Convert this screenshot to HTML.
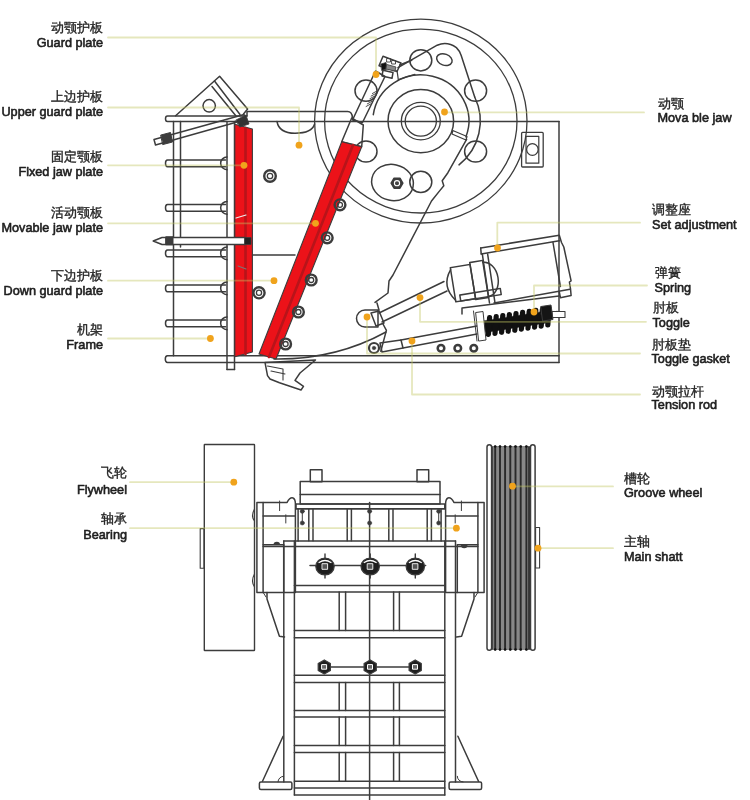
<!DOCTYPE html>
<html><head><meta charset="utf-8"><style>
html,body{margin:0;padding:0;background:#fff;}
svg{display:block;filter:blur(0.4px);}
.en{font-family:"Liberation Sans",sans-serif;font-size:12.7px;fill:#1e1e1e;stroke:#1e1e1e;stroke-width:0.6px;}
.cn{font-family:"Liberation Sans",sans-serif;font-size:13.2px;fill:#262626;stroke:#262626;stroke-width:0.35px;}
</style></head><body>
<svg width="750" height="800" viewBox="0 0 750 800" stroke-linecap="round" stroke-linejoin="round">
<rect width="750" height="800" fill="#fff"/>
<path d="M247,116 H167.5 Q165.5,116 165.5,118.7 Q165.5,121.5 167.5,121.5 H559" stroke="#3c3c3c" stroke-width="1.5" fill="none"/>
<path d="M352.4,117.6 Q352,111.6 347.6,111.6 L247,111.6 V116" stroke="#3c3c3c" stroke-width="1.5" fill="none"/>
<line x1="559" y1="121.5" x2="559" y2="362.5" stroke="#3c3c3c" stroke-width="1.5"/>
<path d="M167.5,355.8 H559 M167.5,362.5 H559 M167.5,355.8 Q165.3,355.8 165.3,359.1 Q165.3,362.5 167.5,362.5" stroke="#3c3c3c" stroke-width="1.5" fill="none"/>
<line x1="173.5" y1="121.5" x2="173.5" y2="355.8" stroke="#3c3c3c" stroke-width="1.5"/>
<line x1="180.5" y1="121.5" x2="180.5" y2="247" stroke="#3c3c3c" stroke-width="1.5"/>
<line x1="227" y1="121.5" x2="227" y2="369.5" stroke="#3c3c3c" stroke-width="1.5"/>
<line x1="234.5" y1="121.5" x2="234.5" y2="369.5" stroke="#3c3c3c" stroke-width="1.5"/>
<line x1="227" y1="369.5" x2="234.5" y2="369.5" stroke="#3c3c3c" stroke-width="1.5"/>
<path d="M225.5,160 H167.5 Q165.5,160 165.5,163.3 Q165.5,166.7 167.5,166.7 H225.5" stroke="#3c3c3c" stroke-width="1.5" fill="none"/>
<path d="M227,157 A6,6 0 0 0 227,169.7" stroke="#3c3c3c" stroke-width="1.5" fill="none"/>
<path d="M225.5,204.5 H167.5 Q165.5,204.5 165.5,207.8 Q165.5,211.2 167.5,211.2 H225.5" stroke="#3c3c3c" stroke-width="1.5" fill="none"/>
<path d="M227,201.5 A6,6 0 0 0 227,214.2" stroke="#3c3c3c" stroke-width="1.5" fill="none"/>
<path d="M225.5,250 H167.5 Q165.5,250 165.5,253.3 Q165.5,256.7 167.5,256.7 H225.5" stroke="#3c3c3c" stroke-width="1.5" fill="none"/>
<path d="M227,247 A6,6 0 0 0 227,259.7" stroke="#3c3c3c" stroke-width="1.5" fill="none"/>
<path d="M225.5,285 H167.5 Q165.5,285 165.5,288.3 Q165.5,291.7 167.5,291.7 H225.5" stroke="#3c3c3c" stroke-width="1.5" fill="none"/>
<path d="M227,282 A6,6 0 0 0 227,294.7" stroke="#3c3c3c" stroke-width="1.5" fill="none"/>
<path d="M225.5,320 H167.5 Q165.5,320 165.5,323.3 Q165.5,326.7 167.5,326.7 H225.5" stroke="#3c3c3c" stroke-width="1.5" fill="none"/>
<path d="M227,317 A6,6 0 0 0 227,329.7" stroke="#3c3c3c" stroke-width="1.5" fill="none"/>
<polyline points="175.6,115.8 219.6,76.2 247.6,109 243.5,114" stroke="#3c3c3c" stroke-width="1.5" fill="none"/>
<line x1="214.5" y1="81" x2="240" y2="114.5" stroke="#3c3c3c" stroke-width="1.5"/>
<line x1="212" y1="86.5" x2="236" y2="116" stroke="#3c3c3c" stroke-width="1.5"/>
<circle cx="209.2" cy="105.8" r="6.2" stroke="#3c3c3c" stroke-width="1.5" fill="none"/>
<polygon points="154,139.5 244,114.5 246,119.5 155.5,145" stroke="#3c3c3c" stroke-width="1.5" fill="none"/>
<polygon points="161,135 170.5,132.5 172.5,142 163,144.5" stroke="#3c3c3c" stroke-width="1" fill="#3c3c3c"/>
<polygon points="234.8,124.2 252.4,129 252.4,352 234.8,356.8" stroke="#3c3c3c" stroke-width="1.1" fill="#ec1219"/>
<line x1="245.5" y1="128" x2="245.5" y2="354" stroke="#b8141a" stroke-width="2.6"/>
<polygon points="236,120 246,115 249,124 240,127" stroke="#3c3c3c" stroke-width="0.8" fill="#333"/>
<path d="M153.2,241 L162,237.5 H245 V244.5 H162 Z" stroke="#3c3c3c" stroke-width="1.5" fill="#fff"/>
<rect x="166" y="236.8" width="7" height="8" rx="0" stroke="#3c3c3c" stroke-width="1" fill="#3c3c3c"/>
<rect x="245" y="237.5" width="6" height="7" rx="0" stroke="#3c3c3c" stroke-width="0.8" fill="#222"/>
<line x1="236" y1="218" x2="246" y2="215" stroke="#eee" stroke-width="1.2"/>
<line x1="238" y1="266" x2="246" y2="269" stroke="#777" stroke-width="1.1"/>
<circle cx="270" cy="176" r="5.8" stroke="#3c3c3c" stroke-width="2.4" fill="none"/>
<circle cx="270" cy="176" r="2.7" stroke="#3c3c3c" stroke-width="1.3" fill="none"/>
<circle cx="259" cy="292.8" r="5.6" stroke="#3c3c3c" stroke-width="2.4" fill="none"/>
<circle cx="259" cy="292.8" r="2.6" stroke="#3c3c3c" stroke-width="1.3" fill="none"/>
<line x1="252.5" y1="255" x2="295" y2="255" stroke="#3c3c3c" stroke-width="1.5"/>
<path d="M277,121.5 Q279,133.2 295,133.2 Q312,133.2 314.6,124" stroke="#3c3c3c" stroke-width="1.5" fill="none"/>
<rect x="521.6" y="132.4" width="21.6" height="34.6" rx="1" stroke="#3c3c3c" stroke-width="1.3" fill="none"/>
<rect x="526" y="136.4" width="12.8" height="26.8" rx="0" stroke="#3c3c3c" stroke-width="1.2" fill="none"/>
<circle cx="532.4" cy="149.5" r="5.8" stroke="#3c3c3c" stroke-width="1.3" fill="none"/>
<ellipse cx="420.8" cy="121.1" rx="106.2" ry="101.9" stroke="#3c3c3c" stroke-width="1.3" fill="none"/>
<ellipse cx="420.8" cy="121.1" rx="96.2" ry="91.9" stroke="#3c3c3c" stroke-width="1.3" fill="none"/>
<ellipse cx="420.8" cy="121.1" rx="32.8" ry="31.6" stroke="#3c3c3c" stroke-width="1.5" fill="none"/>
<ellipse cx="420.8" cy="121.1" rx="19.5" ry="18.8" stroke="#3c3c3c" stroke-width="1.3" fill="none"/>
<ellipse cx="420.8" cy="121.1" rx="15.6" ry="15" stroke="#3c3c3c" stroke-width="1.3" fill="none"/>
<ellipse cx="420.8" cy="60.3" rx="11" ry="10.6" stroke="#3c3c3c" stroke-width="1.5" fill="none"/>
<ellipse cx="366" cy="90.7" rx="11" ry="10.6" stroke="#3c3c3c" stroke-width="1.5" fill="none"/>
<ellipse cx="366" cy="151.5" rx="11" ry="10.6" stroke="#3c3c3c" stroke-width="1.5" fill="none"/>
<ellipse cx="475.6" cy="90.7" rx="11" ry="10.6" stroke="#3c3c3c" stroke-width="1.5" fill="none"/>
<ellipse cx="475.6" cy="151.5" rx="11" ry="10.6" stroke="#3c3c3c" stroke-width="1.5" fill="none"/>
<ellipse cx="420.8" cy="181.9" rx="11" ry="10.6" stroke="#3c3c3c" stroke-width="1.5" fill="none"/>
<ellipse cx="444.4" cy="59.6" rx="8" ry="5.6" stroke="#3c3c3c" stroke-width="1.5" fill="none" transform="rotate(20 444.4 59.6)"/>
<ellipse cx="392.5" cy="182.5" rx="21" ry="18" stroke="#3c3c3c" stroke-width="1.5" fill="none" transform="rotate(12 392.5 182.5)"/>
<polygon points="402.8,183.2 399.9,188.2 394.1,188.2 391.2,183.2 394.1,178.2 399.9,178.2" stroke="#3c3c3c" stroke-width="1.6" fill="#3c3c3c"/>
<circle cx="397" cy="183.2" r="2.6" stroke="#fff" stroke-width="1.1" fill="#444"/>
<path d="M398,67.6 L437.2,45.2 Q447,41 456.4,47.6 Q459.5,50.5 461.2,55.6 L474.7,97" stroke="#3c3c3c" stroke-width="1.5" fill="none"/>
<path d="M474.7,97 A59.5,57.1 0 0 1 459,164.9" stroke="#3c3c3c" stroke-width="1.5" fill="none"/>
<path d="M373.3,114.7 A48,46.1 0 1 1 465.9,136.9" stroke="#3c3c3c" stroke-width="1.5" fill="none"/>
<polygon points="452.8,130.5 467,136.5 466,140 452,134" stroke="#3c3c3c" stroke-width="1.2" fill="none"/>
<path d="M466.6,139.4 L447.9,172.7 L442.2,180.8 L443.8,185.7 L439.8,190.6 L431.5,201 L393,275 L389,281 L388,293 L375,302.4 M377,303 L379,310 M383,324 L386.4,330.4 L380.8,351.2" stroke="#3c3c3c" stroke-width="1.5" fill="none"/>
<polygon points="375.5,71 385,76.5 362.5,122.5 352.5,120" stroke="#3c3c3c" stroke-width="1.5" fill="none"/>
<line x1="372.4" y1="93.5" x2="376.9" y2="91" stroke="#3c3c3c" stroke-width="0.9"/>
<line x1="371.1" y1="96.1" x2="375.6" y2="93.6" stroke="#3c3c3c" stroke-width="0.9"/>
<line x1="369.9" y1="98.7" x2="374.4" y2="96.2" stroke="#3c3c3c" stroke-width="0.9"/>
<line x1="368.6" y1="101.3" x2="373.1" y2="98.8" stroke="#3c3c3c" stroke-width="0.9"/>
<line x1="367.3" y1="103.9" x2="371.8" y2="101.4" stroke="#3c3c3c" stroke-width="0.9"/>
<line x1="366.1" y1="106.5" x2="370.6" y2="104" stroke="#3c3c3c" stroke-width="0.9"/>
<polygon points="383,56.3 401,63 397,71.5 379,65.7" stroke="#3c3c3c" stroke-width="1.5" fill="none"/>
<polygon points="381,64 386,62.5 387,69 382,70.5" stroke="#3c3c3c" stroke-width="0.8" fill="#111"/>
<polygon points="387,64.5 396,67 395,71 386,69" stroke="#3c3c3c" stroke-width="0.8" fill="#888"/>
<rect x="387" y="58.5" width="3.5" height="3.5" rx="0" stroke="#3c3c3c" stroke-width="0.9" fill="none"/>
<rect x="392" y="60.5" width="3.5" height="3.5" rx="0" stroke="#3c3c3c" stroke-width="0.9" fill="none"/>
<polygon points="383,70.3 393,72.5 392,78.3 382,76" stroke="#3c3c3c" stroke-width="1.5" fill="none"/>
<path d="M397,70.3 L398.3,79.7 Q402,78 415,74.3" stroke="#3c3c3c" stroke-width="1.2" fill="none"/>
<line x1="399.7" y1="65" x2="411.7" y2="60.3" stroke="#3c3c3c" stroke-width="1.5"/>
<polygon points="351.7,118 363.3,125 361.7,146.7 341.7,141.7" stroke="#3c3c3c" stroke-width="1.5" fill="none"/>
<polygon points="341.7,141.7 361.7,146.7 276,359 259,354" stroke="#3c3c3c" stroke-width="1.1" fill="#ec1219"/>
<line x1="353" y1="145" x2="269" y2="357" stroke="#b8141a" stroke-width="2.6"/>
<circle cx="340" cy="204.8" r="5.4" stroke="#3c3c3c" stroke-width="2.4" fill="none"/>
<circle cx="340" cy="204.8" r="2.5" stroke="#3c3c3c" stroke-width="1.3" fill="none"/>
<circle cx="327.2" cy="237.8" r="5.4" stroke="#3c3c3c" stroke-width="2.4" fill="none"/>
<circle cx="327.2" cy="237.8" r="2.5" stroke="#3c3c3c" stroke-width="1.3" fill="none"/>
<circle cx="311.2" cy="280" r="5.4" stroke="#3c3c3c" stroke-width="2.4" fill="none"/>
<circle cx="311.2" cy="280" r="2.5" stroke="#3c3c3c" stroke-width="1.3" fill="none"/>
<circle cx="298.4" cy="312" r="5.4" stroke="#3c3c3c" stroke-width="2.4" fill="none"/>
<circle cx="298.4" cy="312" r="2.5" stroke="#3c3c3c" stroke-width="1.3" fill="none"/>
<circle cx="285.6" cy="344" r="5.4" stroke="#3c3c3c" stroke-width="2.4" fill="none"/>
<circle cx="285.6" cy="344" r="2.5" stroke="#3c3c3c" stroke-width="1.3" fill="none"/>
<polygon points="265,362.4 267.5,375.6 270,379 279.5,382.8 301,390 303.5,386.4 295,380.4 300,373 315.5,360" stroke="#3c3c3c" stroke-width="1.5" fill="none"/>
<polyline points="267.5,366 283,369 283,380" stroke="#3c3c3c" stroke-width="1.1" fill="none"/>
<line x1="271" y1="371" x2="285" y2="374" stroke="#3c3c3c" stroke-width="1.1"/>
<path d="M274,359 Q335,360 386,332" stroke="#3c3c3c" stroke-width="1.5" fill="none"/>
<path d="M365,310 H378 V327 H365 A8.5,8.5 0 0 1 365,310 Z" stroke="#3c3c3c" stroke-width="1.5" fill="none"/>
<polygon points="371,313 379,311 384,323 376,326" stroke="#3c3c3c" stroke-width="1.5" fill="none"/>
<circle cx="374" cy="348" r="5" stroke="#3c3c3c" stroke-width="2.2" fill="none"/>
<circle cx="374" cy="348" r="1.8" stroke="#3c3c3c" stroke-width="0.5" fill="#3c3c3c"/>
<line x1="379" y1="313" x2="444" y2="281.5" stroke="#3c3c3c" stroke-width="1.5"/>
<line x1="382" y1="322" x2="447" y2="291" stroke="#3c3c3c" stroke-width="1.5"/>
<rect x="0" y="0" width="0" height="0" rx="0" stroke="#3c3c3c" stroke-width="0" fill="none"/>
<polygon points="380,343 401,340 403,348 382,352" stroke="#3c3c3c" stroke-width="1.5" fill="none"/>
<line x1="401" y1="340" x2="477" y2="326" stroke="#3c3c3c" stroke-width="1.5"/>
<line x1="403" y1="348" x2="477" y2="334" stroke="#3c3c3c" stroke-width="1.5"/>
<circle cx="441" cy="348.2" r="3.3" stroke="#3c3c3c" stroke-width="2.5" fill="none"/>
<circle cx="457.8" cy="348.2" r="3.3" stroke="#3c3c3c" stroke-width="2.5" fill="none"/>
<circle cx="473.8" cy="348.2" r="3.3" stroke="#3c3c3c" stroke-width="2.5" fill="none"/>
<path d="M462,314 L462,308 L559,296" stroke="#3c3c3c" stroke-width="1.5" fill="none"/>
<polyline points="480.7,248 559.3,235.2 561.5,242.5 563.8,247 571.1,280.8 569.4,282 570.5,288.7 571.1,295.4 560.4,297.7 559.3,292" stroke="#3c3c3c" stroke-width="1.5" fill="none"/>
<line x1="494" y1="302.9" x2="570" y2="289.3" stroke="#3c3c3c" stroke-width="1.5"/>
<line x1="481.2" y1="253.9" x2="559.3" y2="240.8" stroke="#3c3c3c" stroke-width="1.5"/>
<line x1="480.7" y1="248" x2="481.2" y2="253.9" stroke="#3c3c3c" stroke-width="1.5"/>
<line x1="553" y1="242.5" x2="560.4" y2="286.4" stroke="#3c3c3c" stroke-width="1.5"/>
<g transform="translate(450.3,267.7) rotate(-9.2)">
<path d="M33,0 A12.5,17.3 0 0 1 33,34.6" stroke="#3c3c3c" stroke-width="1.5" fill="none"/>
<rect x="0" y="0" width="20" height="34.6" rx="0" stroke="#3c3c3c" stroke-width="1.5" fill="none"/>
<rect x="20" y="-2" width="13" height="37.5" rx="0" stroke="#3c3c3c" stroke-width="1.5" fill="none"/>
<path d="M0,2 Q-12,17 0,33" stroke="#3c3c3c" stroke-width="1.5" fill="none"/>
<rect x="5" y="28.5" width="41" height="6.1" rx="0" stroke="#3c3c3c" stroke-width="1.5" fill="none"/>
</g>
<line x1="482.3" y1="253.9" x2="489.5" y2="303" stroke="#3c3c3c" stroke-width="1.5"/>
<line x1="487.6" y1="253.9" x2="495" y2="302.9" stroke="#3c3c3c" stroke-width="1.5"/>
<polygon points="484,320.8 550,310.4 550,322.4 484,332.8" stroke="#3c3c3c" stroke-width="0.5" fill="#111"/>
<rect x="486.4" y="315" width="5.2" height="22" rx="2.6" fill="#111" transform="rotate(4 489 326)"/>
<rect x="493" y="314" width="5.2" height="22" rx="2.6" fill="#111" transform="rotate(4 495.6 325)"/>
<rect x="499.6" y="312.9" width="5.2" height="22" rx="2.6" fill="#111" transform="rotate(4 502.2 323.9)"/>
<rect x="506.2" y="311.9" width="5.2" height="22" rx="2.6" fill="#111" transform="rotate(4 508.8 322.9)"/>
<rect x="512.8" y="310.9" width="5.2" height="22" rx="2.6" fill="#111" transform="rotate(4 515.4 321.9)"/>
<rect x="519.4" y="309.8" width="5.2" height="22" rx="2.6" fill="#111" transform="rotate(4 522 320.8)"/>
<rect x="526" y="308.8" width="5.2" height="22" rx="2.6" fill="#111" transform="rotate(4 528.6 319.8)"/>
<rect x="532.6" y="307.7" width="5.2" height="22" rx="2.6" fill="#111" transform="rotate(4 535.2 318.7)"/>
<rect x="539.2" y="306.7" width="5.2" height="22" rx="2.6" fill="#111" transform="rotate(4 541.8 317.7)"/>
<rect x="545.8" y="305.6" width="5.2" height="22" rx="2.6" fill="#111" transform="rotate(4 548.4 316.6)"/>
<line x1="541" y1="313.8" x2="557" y2="311.3" stroke="#3c3c3c" stroke-width="1"/>
<rect x="552" y="311.5" width="13" height="6" rx="0" stroke="#3c3c3c" stroke-width="1.1" fill="#fff"/>
<polygon points="541,306.5 551,305 553,319.5 543,321" stroke="#3c3c3c" stroke-width="1" fill="#151515"/>
<polygon points="476,312.5 483,311.5 486,340 479,341" stroke="#3c3c3c" stroke-width="1" fill="#fff"/>
<line x1="473.5" y1="311" x2="477" y2="341" stroke="#3c3c3c" stroke-width="1"/>
<rect x="204.3" y="444.5" width="50.2" height="206" rx="0.5" stroke="#3c3c3c" stroke-width="1.4" fill="none"/>
<path d="M254.5,509 Q250.5,516 254.5,521 M254.5,574 Q250.5,581 254.5,587" stroke="#3c3c3c" stroke-width="1.1" fill="none"/>
<rect x="200.2" y="528.6" width="3.8" height="39.6" rx="0" stroke="#3c3c3c" stroke-width="1.1" fill="none"/>
<rect x="490" y="446" width="41" height="204" rx="0" stroke="#3c3c3c" stroke-width="0" fill="#888"/>
<path d="M487,648 V447 A2.3,2.3 0 0 1 491.6,447 V648 A2.3,2.3 0 0 1 487,648 Z" stroke="#3c3c3c" stroke-width="1.5" fill="#fff"/>
<path d="M530.5,648 V447 A2.3,2.3 0 0 1 535.1,447 V648 A2.3,2.3 0 0 1 530.5,648 Z" stroke="#3c3c3c" stroke-width="1.5" fill="#fff"/>
<line x1="495.2" y1="446.5" x2="495.2" y2="649.5" stroke="#2a2a2a" stroke-width="1.9"/>
<circle cx="495.2" cy="446.5" r="1.3" stroke="#3c3c3c" stroke-width="0" fill="#111"/>
<circle cx="495.2" cy="649.5" r="1.3" stroke="#3c3c3c" stroke-width="0" fill="#111"/>
<line x1="500" y1="446.5" x2="500" y2="649.5" stroke="#2a2a2a" stroke-width="1.9"/>
<circle cx="500" cy="446.5" r="1.3" stroke="#3c3c3c" stroke-width="0" fill="#111"/>
<circle cx="500" cy="649.5" r="1.3" stroke="#3c3c3c" stroke-width="0" fill="#111"/>
<line x1="505.1" y1="446.5" x2="505.1" y2="649.5" stroke="#2a2a2a" stroke-width="1.9"/>
<circle cx="505.1" cy="446.5" r="1.3" stroke="#3c3c3c" stroke-width="0" fill="#111"/>
<circle cx="505.1" cy="649.5" r="1.3" stroke="#3c3c3c" stroke-width="0" fill="#111"/>
<line x1="510.3" y1="446.5" x2="510.3" y2="649.5" stroke="#2a2a2a" stroke-width="1.9"/>
<circle cx="510.3" cy="446.5" r="1.3" stroke="#3c3c3c" stroke-width="0" fill="#111"/>
<circle cx="510.3" cy="649.5" r="1.3" stroke="#3c3c3c" stroke-width="0" fill="#111"/>
<line x1="515.5" y1="446.5" x2="515.5" y2="649.5" stroke="#2a2a2a" stroke-width="1.9"/>
<circle cx="515.5" cy="446.5" r="1.3" stroke="#3c3c3c" stroke-width="0" fill="#111"/>
<circle cx="515.5" cy="649.5" r="1.3" stroke="#3c3c3c" stroke-width="0" fill="#111"/>
<line x1="520.7" y1="446.5" x2="520.7" y2="649.5" stroke="#2a2a2a" stroke-width="1.9"/>
<circle cx="520.7" cy="446.5" r="1.3" stroke="#3c3c3c" stroke-width="0" fill="#111"/>
<circle cx="520.7" cy="649.5" r="1.3" stroke="#3c3c3c" stroke-width="0" fill="#111"/>
<line x1="526.4" y1="446.5" x2="526.4" y2="649.5" stroke="#2a2a2a" stroke-width="1.9"/>
<circle cx="526.4" cy="446.5" r="1.3" stroke="#3c3c3c" stroke-width="0" fill="#111"/>
<circle cx="526.4" cy="649.5" r="1.3" stroke="#3c3c3c" stroke-width="0" fill="#111"/>
<line x1="492.5" y1="447" x2="492.5" y2="649" stroke="#444" stroke-width="1.2"/>
<line x1="529" y1="447" x2="529" y2="649" stroke="#222" stroke-width="1.5"/>
<rect x="535.6" y="527.5" width="4" height="40.5" rx="0" stroke="#3c3c3c" stroke-width="1.1" fill="none"/>
<rect x="310.3" y="469.8" width="11.7" height="12" rx="0" stroke="#3c3c3c" stroke-width="1.5" fill="none"/>
<rect x="417" y="469.8" width="11.7" height="12" rx="0" stroke="#3c3c3c" stroke-width="1.5" fill="none"/>
<rect x="300.2" y="481.6" width="139.8" height="22.4" rx="0" stroke="#3c3c3c" stroke-width="1.5" fill="none"/>
<line x1="300.2" y1="494.4" x2="440" y2="494.4" stroke="#3c3c3c" stroke-width="1.5"/>
<rect x="296" y="504" width="148.8" height="4.8" rx="0" stroke="#3c3c3c" stroke-width="1.5" fill="none"/>
<path d="M256.9,592.5 V502.4 H287.1 Q290,497 293,498 Q295.4,499 295.4,504 V592.5 H256.9" stroke="#3c3c3c" stroke-width="1.5" fill="none"/>
<line x1="263.1" y1="502.4" x2="263.1" y2="592.5" stroke="#3c3c3c" stroke-width="1.5"/>
<line x1="263.1" y1="516.1" x2="295.4" y2="516.1" stroke="#3c3c3c" stroke-width="1.5"/>
<line x1="279.6" y1="501" x2="279.6" y2="510.6" stroke="#3c3c3c" stroke-width="1"/>
<line x1="285.8" y1="514.8" x2="285.8" y2="523" stroke="#3c3c3c" stroke-width="1"/>
<line x1="263.1" y1="544.8" x2="283.7" y2="544.8" stroke="#3c3c3c" stroke-width="1.5"/>
<path d="M273.5,545 A3.3,3.3 0 0 1 280.1,545 Z" fill="#3c3c3c"/>
<line x1="283.7" y1="545" x2="283.7" y2="592.5" stroke="#3c3c3c" stroke-width="1.5"/>
<polyline points="267,592.5 267,599 279.4,636.3 284.5,637" stroke="#3c3c3c" stroke-width="1.5" fill="none"/>
<line x1="263.5" y1="593" x2="266" y2="597" stroke="#3c3c3c" stroke-width="1"/>
<polyline points="283.1,736.3 262.5,781.3" stroke="#3c3c3c" stroke-width="1.5" fill="none"/>
<rect x="259.4" y="781.9" width="32.5" height="7.5" rx="1.5" stroke="#3c3c3c" stroke-width="1.5" fill="none"/>
<path d="M278,781.9 A5.5,5.5 0 0 1 283.7,776.3" stroke="#3c3c3c" stroke-width="1" fill="none"/>
<circle cx="302.3" cy="511.3" r="2.1" stroke="#3c3c3c" stroke-width="0.5" fill="#3c3c3c"/>
<circle cx="302.3" cy="523" r="2.1" stroke="#3c3c3c" stroke-width="0.5" fill="#3c3c3c"/>
<line x1="302.3" y1="511.3" x2="302.3" y2="523" stroke="#3c3c3c" stroke-width="1"/>
<path d="M484.1,592.5 V502.4 H453.9 Q451,497 448,498 Q445.6,499 445.6,504 V592.5 H484.1" stroke="#3c3c3c" stroke-width="1.5" fill="none"/>
<line x1="477.9" y1="502.4" x2="477.9" y2="592.5" stroke="#3c3c3c" stroke-width="1.5"/>
<line x1="477.9" y1="516.1" x2="445.6" y2="516.1" stroke="#3c3c3c" stroke-width="1.5"/>
<line x1="461.4" y1="501" x2="461.4" y2="510.6" stroke="#3c3c3c" stroke-width="1"/>
<line x1="455.2" y1="514.8" x2="455.2" y2="523" stroke="#3c3c3c" stroke-width="1"/>
<line x1="477.9" y1="544.8" x2="457.3" y2="544.8" stroke="#3c3c3c" stroke-width="1.5"/>
<path d="M467.5,545 A3.3,3.3 0 0 1 460.9,545 Z" fill="#3c3c3c"/>
<line x1="457.3" y1="545" x2="457.3" y2="592.5" stroke="#3c3c3c" stroke-width="1.5"/>
<polyline points="474,592.5 474,599 461.6,636.3 456.5,637" stroke="#3c3c3c" stroke-width="1.5" fill="none"/>
<line x1="477.5" y1="593" x2="475" y2="597" stroke="#3c3c3c" stroke-width="1"/>
<polyline points="457.9,736.3 478.5,781.3" stroke="#3c3c3c" stroke-width="1.5" fill="none"/>
<rect x="449.1" y="781.9" width="32.5" height="7.5" rx="1.5" stroke="#3c3c3c" stroke-width="1.5" fill="none"/>
<path d="M463,781.9 A5.5,5.5 0 0 1 457.3,776.3" stroke="#3c3c3c" stroke-width="1" fill="none"/>
<circle cx="438.7" cy="511.3" r="2.1" stroke="#3c3c3c" stroke-width="0.5" fill="#3c3c3c"/>
<circle cx="438.7" cy="523" r="2.1" stroke="#3c3c3c" stroke-width="0.5" fill="#3c3c3c"/>
<line x1="438.7" y1="511.3" x2="438.7" y2="523" stroke="#3c3c3c" stroke-width="1"/>
<circle cx="369.6" cy="511.3" r="2.1" stroke="#3c3c3c" stroke-width="0.5" fill="#3c3c3c"/>
<circle cx="369.6" cy="523" r="2.1" stroke="#3c3c3c" stroke-width="0.5" fill="#3c3c3c"/>
<line x1="283.8" y1="540.9" x2="283.8" y2="781.9" stroke="#3c3c3c" stroke-width="1.5"/>
<line x1="294.4" y1="540.9" x2="294.4" y2="795" stroke="#3c3c3c" stroke-width="1.5"/>
<line x1="444.8" y1="540.9" x2="444.8" y2="795" stroke="#3c3c3c" stroke-width="1.5"/>
<line x1="455.5" y1="540.9" x2="455.5" y2="781.9" stroke="#3c3c3c" stroke-width="1.5"/>
<line x1="283.7" y1="541" x2="455.5" y2="541" stroke="#3c3c3c" stroke-width="1.5"/>
<line x1="263.1" y1="546.5" x2="477.9" y2="546.5" stroke="#3c3c3c" stroke-width="1.5"/>
<line x1="369.6" y1="502.4" x2="369.6" y2="800" stroke="#3c3c3c" stroke-width="1.5"/>
<line x1="298.1" y1="509" x2="298.1" y2="541" stroke="#3c3c3c" stroke-width="1.5"/>
<line x1="441.1" y1="509" x2="441.1" y2="541" stroke="#3c3c3c" stroke-width="1.5"/>
<line x1="296" y1="508.8" x2="444.8" y2="508.8" stroke="#3c3c3c" stroke-width="1.5"/>
<line x1="308.8" y1="508.8" x2="308.8" y2="540.8" stroke="#3c3c3c" stroke-width="1.5"/>
<line x1="313" y1="508.8" x2="313" y2="540.8" stroke="#3c3c3c" stroke-width="1.5"/>
<line x1="347.2" y1="508.8" x2="347.2" y2="540.8" stroke="#3c3c3c" stroke-width="1.5"/>
<line x1="351.4" y1="508.8" x2="351.4" y2="540.8" stroke="#3c3c3c" stroke-width="1.5"/>
<line x1="388.8" y1="508.8" x2="388.8" y2="540.8" stroke="#3c3c3c" stroke-width="1.5"/>
<line x1="393" y1="508.8" x2="393" y2="540.8" stroke="#3c3c3c" stroke-width="1.5"/>
<line x1="427.2" y1="508.8" x2="427.2" y2="540.8" stroke="#3c3c3c" stroke-width="1.5"/>
<line x1="431.4" y1="508.8" x2="431.4" y2="540.8" stroke="#3c3c3c" stroke-width="1.5"/>
<line x1="310" y1="565.5" x2="425.6" y2="565.5" stroke="#3c3c3c" stroke-width="1.5"/>
<line x1="325" y1="554" x2="325" y2="578" stroke="#3c3c3c" stroke-width="1.4"/>
<ellipse cx="325" cy="566.5" rx="9.2" ry="8.4" stroke="#3c3c3c" stroke-width="1.2" fill="#1e1e1e"/>
<path d="M319,562.5 Q325,558.5 331,562.5" stroke="#fff" stroke-width="1.3" fill="none"/>
<rect x="322.4" y="563.7" width="5.2" height="5.6" rx="0" stroke="#fff" stroke-width="0.9" fill="#555"/>
<line x1="370.2" y1="554" x2="370.2" y2="578" stroke="#3c3c3c" stroke-width="1.4"/>
<ellipse cx="370.2" cy="566.5" rx="9.2" ry="8.4" stroke="#3c3c3c" stroke-width="1.2" fill="#1e1e1e"/>
<path d="M364.2,562.5 Q370.2,558.5 376.2,562.5" stroke="#fff" stroke-width="1.3" fill="none"/>
<rect x="367.6" y="563.7" width="5.2" height="5.6" rx="0" stroke="#fff" stroke-width="0.9" fill="#555"/>
<line x1="415.3" y1="554" x2="415.3" y2="578" stroke="#3c3c3c" stroke-width="1.4"/>
<ellipse cx="415.3" cy="566.5" rx="9.2" ry="8.4" stroke="#3c3c3c" stroke-width="1.2" fill="#1e1e1e"/>
<path d="M409.3,562.5 Q415.3,558.5 421.3,562.5" stroke="#fff" stroke-width="1.3" fill="none"/>
<rect x="412.7" y="563.7" width="5.2" height="5.6" rx="0" stroke="#fff" stroke-width="0.9" fill="#555"/>
<line x1="294.4" y1="585.6" x2="444.8" y2="585.6" stroke="#3c3c3c" stroke-width="1.5"/>
<line x1="294.4" y1="592" x2="444.8" y2="592" stroke="#3c3c3c" stroke-width="1.5"/>
<line x1="294.4" y1="630.4" x2="444.8" y2="630.4" stroke="#3c3c3c" stroke-width="1.5"/>
<line x1="294.4" y1="637.8" x2="444.8" y2="637.8" stroke="#3c3c3c" stroke-width="1.5"/>
<line x1="294.4" y1="675.2" x2="444.8" y2="675.2" stroke="#3c3c3c" stroke-width="1.5"/>
<line x1="294.4" y1="682.6" x2="444.8" y2="682.6" stroke="#3c3c3c" stroke-width="1.5"/>
<line x1="294.4" y1="710.6" x2="444.8" y2="710.6" stroke="#3c3c3c" stroke-width="1.5"/>
<line x1="294.4" y1="716.9" x2="444.8" y2="716.9" stroke="#3c3c3c" stroke-width="1.5"/>
<line x1="294.4" y1="745.6" x2="444.8" y2="745.6" stroke="#3c3c3c" stroke-width="1.5"/>
<line x1="294.4" y1="752.5" x2="444.8" y2="752.5" stroke="#3c3c3c" stroke-width="1.5"/>
<line x1="294.4" y1="781.2" x2="444.8" y2="781.2" stroke="#3c3c3c" stroke-width="1.5"/>
<line x1="294.4" y1="788.1" x2="444.8" y2="788.1" stroke="#3c3c3c" stroke-width="1.5"/>
<line x1="294.4" y1="795" x2="444.8" y2="795" stroke="#3c3c3c" stroke-width="1.5"/>
<line x1="339.2" y1="592" x2="339.2" y2="630.4" stroke="#3c3c3c" stroke-width="1.5"/>
<line x1="345.6" y1="592" x2="345.6" y2="630.4" stroke="#3c3c3c" stroke-width="1.5"/>
<line x1="393.6" y1="592" x2="393.6" y2="630.4" stroke="#3c3c3c" stroke-width="1.5"/>
<line x1="399.4" y1="592" x2="399.4" y2="630.4" stroke="#3c3c3c" stroke-width="1.5"/>
<line x1="339.2" y1="682.6" x2="339.2" y2="710.6" stroke="#3c3c3c" stroke-width="1.5"/>
<line x1="345.6" y1="682.6" x2="345.6" y2="710.6" stroke="#3c3c3c" stroke-width="1.5"/>
<line x1="393.6" y1="682.6" x2="393.6" y2="710.6" stroke="#3c3c3c" stroke-width="1.5"/>
<line x1="399.4" y1="682.6" x2="399.4" y2="710.6" stroke="#3c3c3c" stroke-width="1.5"/>
<line x1="339.2" y1="716.9" x2="339.2" y2="745.6" stroke="#3c3c3c" stroke-width="1.5"/>
<line x1="345.6" y1="716.9" x2="345.6" y2="745.6" stroke="#3c3c3c" stroke-width="1.5"/>
<line x1="393.6" y1="716.9" x2="393.6" y2="745.6" stroke="#3c3c3c" stroke-width="1.5"/>
<line x1="399.4" y1="716.9" x2="399.4" y2="745.6" stroke="#3c3c3c" stroke-width="1.5"/>
<line x1="339.2" y1="752.5" x2="339.2" y2="781.2" stroke="#3c3c3c" stroke-width="1.5"/>
<line x1="345.6" y1="752.5" x2="345.6" y2="781.2" stroke="#3c3c3c" stroke-width="1.5"/>
<line x1="393.6" y1="752.5" x2="393.6" y2="781.2" stroke="#3c3c3c" stroke-width="1.5"/>
<line x1="399.4" y1="752.5" x2="399.4" y2="781.2" stroke="#3c3c3c" stroke-width="1.5"/>
<line x1="324.3" y1="666.9" x2="415.2" y2="666.9" stroke="#3c3c3c" stroke-width="1.5"/>
<polygon points="324.3,659.9 330.4,663.4 330.4,670.4 324.3,673.9 318.2,670.4 318.2,663.4" stroke="#3c3c3c" stroke-width="1.2" fill="#1e1e1e"/>
<rect x="322" y="664.6" width="4.6" height="4.6" rx="0" stroke="#fff" stroke-width="1" fill="#666"/>
<polygon points="370.2,659.9 376.3,663.4 376.3,670.4 370.2,673.9 364.1,670.4 364.1,663.4" stroke="#3c3c3c" stroke-width="1.2" fill="#1e1e1e"/>
<rect x="367.9" y="664.6" width="4.6" height="4.6" rx="0" stroke="#fff" stroke-width="1" fill="#666"/>
<polygon points="415.2,659.9 421.3,663.4 421.3,670.4 415.2,673.9 409.1,670.4 409.1,663.4" stroke="#3c3c3c" stroke-width="1.2" fill="#1e1e1e"/>
<rect x="412.9" y="664.6" width="4.6" height="4.6" rx="0" stroke="#fff" stroke-width="1" fill="#666"/>
<polyline points="108,37.5 376,37.5 376,74.5" stroke="#c2c562" stroke-opacity="0.42" stroke-width="1.8" fill="none"/>
<circle cx="376" cy="74.5" r="3.4" fill="#f0a31c"/>
<polyline points="108,107.5 299,107.5 299,145.2" stroke="#c2c562" stroke-opacity="0.42" stroke-width="1.8" fill="none"/>
<circle cx="299" cy="145.2" r="3.4" fill="#f0a31c"/>
<polyline points="108,165.3 244,165.3" stroke="#c2c562" stroke-opacity="0.42" stroke-width="1.8" fill="none"/>
<circle cx="244" cy="165.3" r="3.4" fill="#f0a31c"/>
<polyline points="108,223.3 315.5,223.3" stroke="#c2c562" stroke-opacity="0.42" stroke-width="1.8" fill="none"/>
<circle cx="315.5" cy="223.3" r="3.4" fill="#f0a31c"/>
<polyline points="108,280.7 274,280.7" stroke="#c2c562" stroke-opacity="0.42" stroke-width="1.8" fill="none"/>
<circle cx="274" cy="280.7" r="3.4" fill="#f0a31c"/>
<polyline points="108,338.5 210.4,338.5" stroke="#c2c562" stroke-opacity="0.42" stroke-width="1.8" fill="none"/>
<circle cx="210.4" cy="338.5" r="3.4" fill="#f0a31c"/>
<polyline points="130,482.2 233.8,482.2" stroke="#c2c562" stroke-opacity="0.42" stroke-width="1.8" fill="none"/>
<circle cx="233.8" cy="482.2" r="3.4" fill="#f0a31c"/>
<polyline points="130,528.2 456.4,528.2" stroke="#c2c562" stroke-opacity="0.42" stroke-width="1.8" fill="none"/>
<circle cx="456.4" cy="528.2" r="3.4" fill="#f0a31c"/>
<polyline points="444.5,112.4 644,112.4" stroke="#c2c562" stroke-opacity="0.42" stroke-width="1.8" fill="none"/>
<circle cx="444.5" cy="112" r="3.4" fill="#f0a31c"/>
<polyline points="497.3,248 497.3,222.7 640,222.7" stroke="#c2c562" stroke-opacity="0.42" stroke-width="1.8" fill="none"/>
<circle cx="497.5" cy="248" r="3.4" fill="#f0a31c"/>
<polyline points="534,312 534,285.5 647,285.5" stroke="#c2c562" stroke-opacity="0.42" stroke-width="1.8" fill="none"/>
<circle cx="534" cy="312" r="3.4" fill="#f0a31c"/>
<polyline points="420,297.6 420,321.8 646,321.8" stroke="#c2c562" stroke-opacity="0.42" stroke-width="1.8" fill="none"/>
<circle cx="420" cy="297.6" r="3.4" fill="#f0a31c"/>
<polyline points="367,317 367,353.5 640,353.5" stroke="#c2c562" stroke-opacity="0.42" stroke-width="1.8" fill="none"/>
<circle cx="367" cy="317" r="3.4" fill="#f0a31c"/>
<polyline points="412,341 412,394.5 640,394.5" stroke="#c2c562" stroke-opacity="0.42" stroke-width="1.8" fill="none"/>
<circle cx="412" cy="341" r="3.4" fill="#f0a31c"/>
<polyline points="512.5,486.4 613,486.4" stroke="#c2c562" stroke-opacity="0.42" stroke-width="1.8" fill="none"/>
<circle cx="512.5" cy="486.2" r="3.4" fill="#f0a31c"/>
<polyline points="538,548.2 613,548.2" stroke="#c2c562" stroke-opacity="0.42" stroke-width="1.8" fill="none"/>
<circle cx="538" cy="548.2" r="3.4" fill="#f0a31c"/>
<text x="103" y="31.6" text-anchor="end" class="cn">动颚护板</text>
<text x="103" y="46.5" text-anchor="end" class="en">Guard plate</text>
<text x="103" y="100.6" text-anchor="end" class="cn">上边护板</text>
<text x="103" y="115.5" text-anchor="end" class="en">Upper guard plate</text>
<text x="103" y="160.6" text-anchor="end" class="cn">固定颚板</text>
<text x="103" y="175.5" text-anchor="end" class="en">Flxed jaw plate</text>
<text x="103" y="217.1" text-anchor="end" class="cn">活动颚板</text>
<text x="103" y="232.2" text-anchor="end" class="en">Movable jaw plate</text>
<text x="103" y="280.3" text-anchor="end" class="cn">下边护板</text>
<text x="103" y="295.4" text-anchor="end" class="en">Down guard plate</text>
<text x="103" y="334.1" text-anchor="end" class="cn">机架</text>
<text x="103" y="349" text-anchor="end" class="en">Frame</text>
<text x="127" y="476.6" text-anchor="end" class="cn">飞轮</text>
<text x="127" y="493.5" text-anchor="end" class="en">Flywheel</text>
<text x="127" y="523.2" text-anchor="end" class="cn">轴承</text>
<text x="127" y="539.1" text-anchor="end" class="en">Bearing</text>
<text x="657.5" y="107.6" text-anchor="start" class="cn">动颚</text>
<text x="657.5" y="122" text-anchor="start" class="en">Mova ble jaw</text>
<text x="652" y="214.1" text-anchor="start" class="cn">调整座</text>
<text x="652" y="229.3" text-anchor="start" class="en">Set adjustment</text>
<text x="654.5" y="276.9" text-anchor="start" class="cn">弹簧</text>
<text x="654.5" y="292.3" text-anchor="start" class="en">Spring</text>
<text x="652.5" y="312.1" text-anchor="start" class="cn">肘板</text>
<text x="652.5" y="327" text-anchor="start" class="en">Toggle</text>
<text x="651.5" y="348.9" text-anchor="start" class="cn">肘板垫</text>
<text x="651.5" y="363.1" text-anchor="start" class="en">Toggle gasket</text>
<text x="651.5" y="395.6" text-anchor="start" class="cn">动颚拉杆</text>
<text x="651.5" y="409.1" text-anchor="start" class="en">Tension rod</text>
<text x="624" y="482.6" text-anchor="start" class="cn">槽轮</text>
<text x="624" y="497" text-anchor="start" class="en">Groove wheel</text>
<text x="624" y="545.6" text-anchor="start" class="cn">主轴</text>
<text x="624" y="560.5" text-anchor="start" class="en">Main shatt</text>
</svg></body></html>
